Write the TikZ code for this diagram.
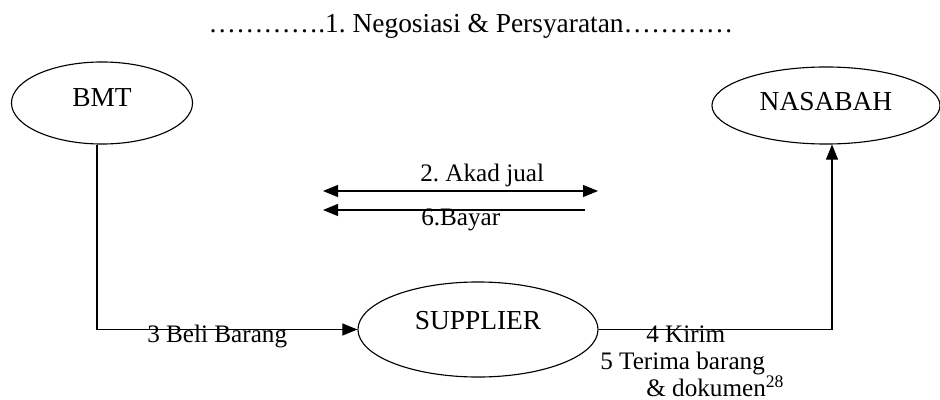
\documentclass[tikz,border=0pt]{standalone}
\usepackage{fontspec}
\setmainfont{Liberation Serif}
\usetikzlibrary{arrows.meta, shapes.geometric}
\frenchspacing

\tikzset{
    party/.style={draw, ellipse, line width=0.8pt, inner sep=0pt, text depth=0pt},
    arr/.style={-{Triangle[length=0.375cm, width=0.3cm]}, line width=0.8pt},
    lbl/.style={inner sep=0pt, anchor=base west, font=\fontsize{17.9}{21}\selectfont}
}

\begin{document}
\begin{tikzpicture}[x=0.025cm, y=-0.025cm, font=\fontsize{19.5}{23}\selectfont]
    \useasboundingbox (0,0) rectangle (940,400);

    % Title
    \node[inner sep=0pt, anchor=base] (nego) at (471,33) {………….1. Negosiasi \& Persyaratan…………};

    % BMT
    \node[party, minimum width=4.525cm, minimum height=2.05cm, text height=0.2cm] (bmt) at (102,103) {BMT};

    % NASABAH
    \node[party, minimum width=5.7cm, minimum height=1.925cm, text height=0.275cm] (nas) at (826,105.5) {NASABAH};

    % SUPPLIER
    \node[party, minimum width=6cm, minimum height=2.375cm, text height=0pt] (sup) at (478,329.5) {SUPPLIER};

    % Akad jual / Bayar
    \coordinate (akadL) at (323,191);
    \coordinate (akadR) at (598,191);
    \coordinate (bayarL) at (323,210);
    \coordinate (bayarR) at (585,210);
    \draw[arr, {Triangle[length=0.375cm, width=0.3cm]}-{Triangle[length=0.375cm, width=0.3cm]}] (akadL) -- (akadR);
    \draw[arr] (bayarR) -- (bayarL);
    \node[lbl] (akad) at (420,182) {2. Akad jual};
    \node[lbl] (bayar) at (421,225) {6.Bayar};

    % Beli barang
    \draw[arr] ([xshift=-0.125cm]bmt.south) |- (sup.west);
    \node[lbl] (beli) at (147,342) {3 Beli Barang};

    % Kirim
    \draw[arr] (sup.east) -| ([xshift=0.15cm]nas.south);
    \node[lbl] (kirim) at (646,342) {4 Kirim};
    \node[lbl] (terima) at (600,369) {5 Terima barang};
    \node[lbl] (dok) at (646,396) {\& dokumen\textsuperscript{28}};
\end{tikzpicture}
\end{document}
